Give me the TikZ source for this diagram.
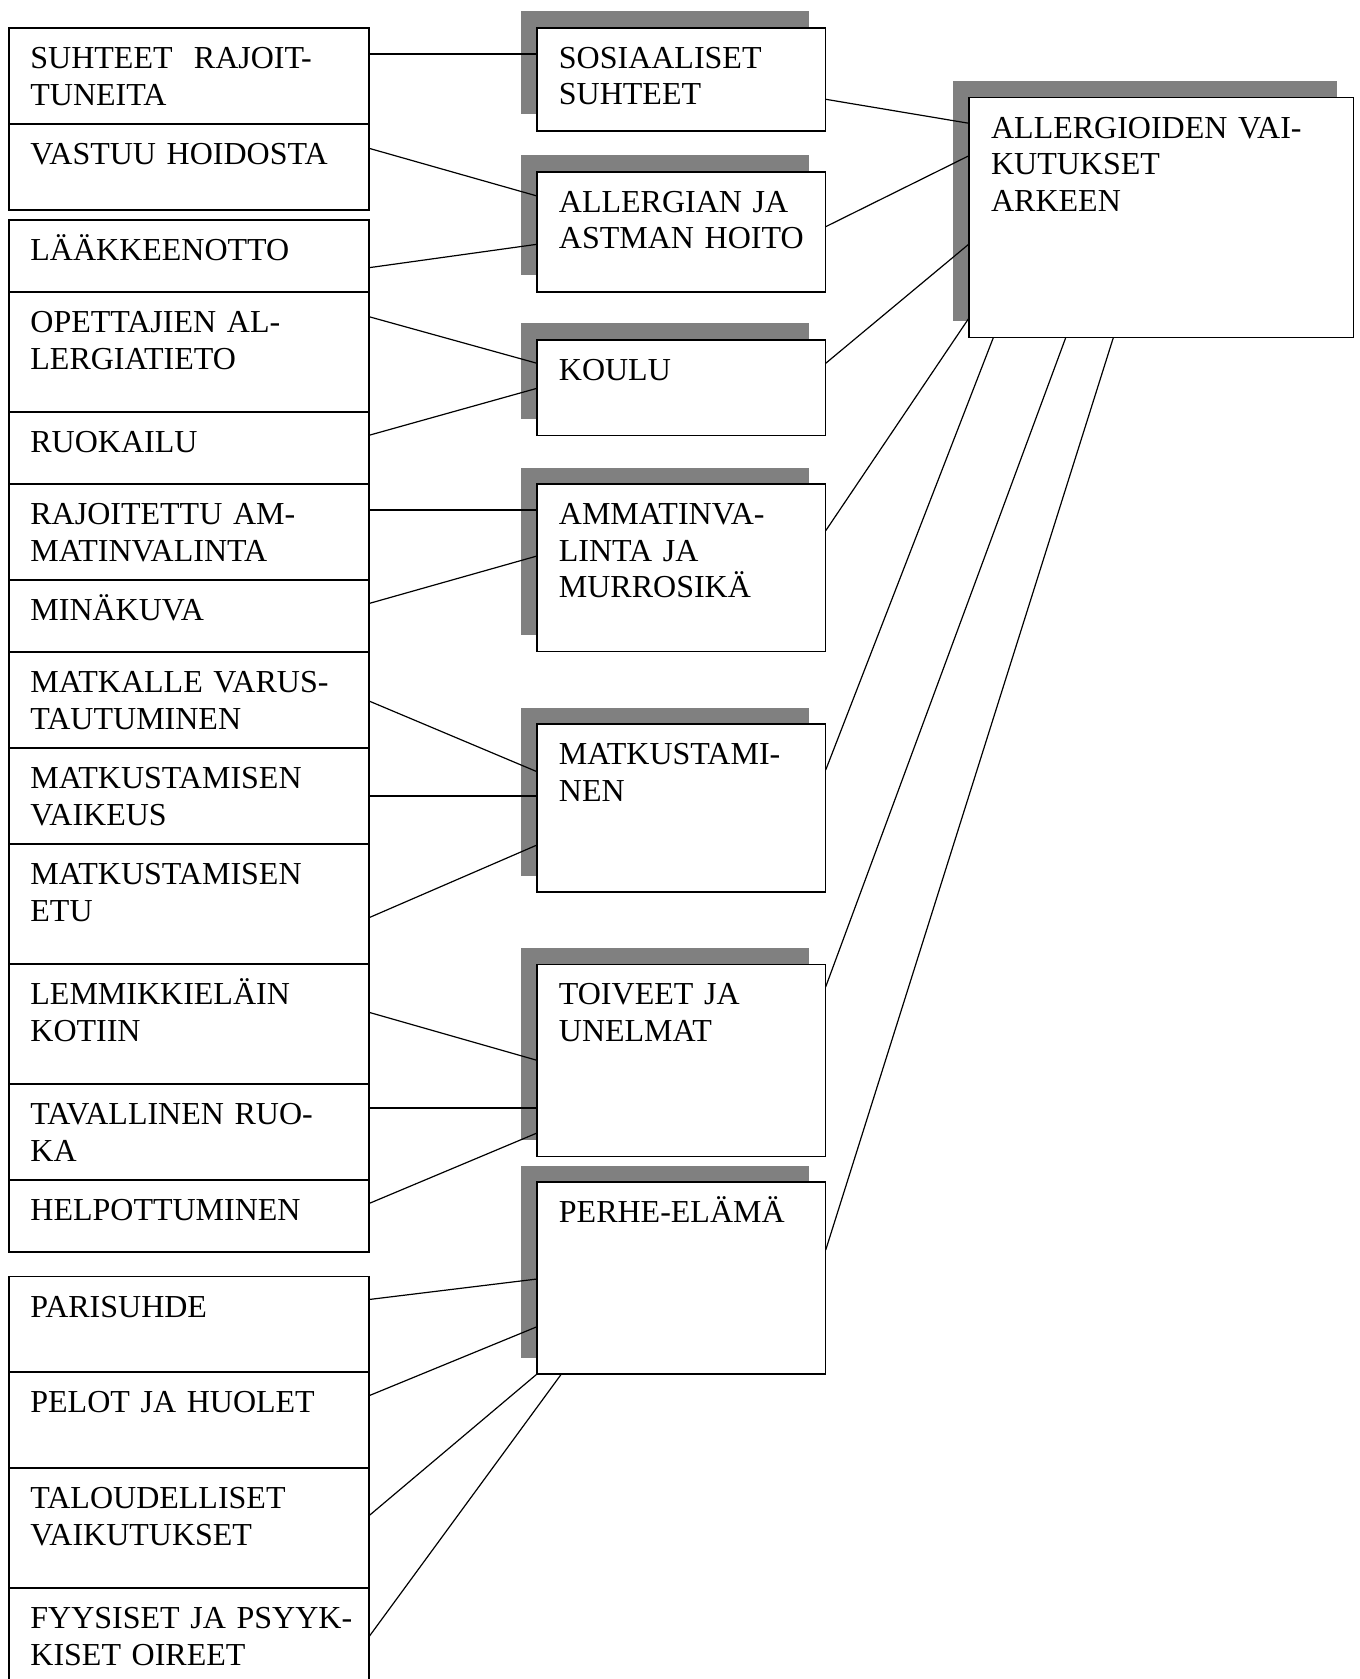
\documentclass[tikz,border=0pt]{standalone}
\usepackage{fontspec}
\setmainfont{Liberation Serif}
\usetikzlibrary{fit,calc,shadows}
\begin{document}
\begin{tikzpicture}[x=0.5pt,y=-0.5pt,
  frame/.style={draw, line width=0.75pt, fill=white, inner sep=0pt, outer sep=0pt},
  topic/.style={frame, general shadow={fill=gray, shadow xshift=-8.25pt, shadow yshift=8.25pt}},
  lbl/.style={anchor=base west, inner sep=0pt, align=left, text width=175pt,
    font=\fontsize{16pt}{18.35pt}\selectfont},
  link/.style={line width=0.6pt}]
\useasboundingbox (0,0) rectangle (1359,1679);

% ---- left column: sub-themes ----
\node[frame, fit={(9,28) (369,124)}] (l1) {};
\node[frame, fit={(9,124) (369,210)}] (l2) {};
\node[frame, fit={(9,220) (369,292)}] (l3) {};
\node[frame, fit={(9,292) (369,412)}] (l4) {};
\node[frame, fit={(9,412) (369,484)}] (l5) {};
\node[frame, fit={(9,484) (369,580)}] (l6) {};
\node[frame, fit={(9,580) (369,652)}] (l7) {};
\node[frame, fit={(9,652) (369,748)}] (l8) {};
\node[frame, fit={(9,748) (369,844)}] (l9) {};
\node[frame, fit={(9,844) (369,964)}] (l10) {};
\node[frame, fit={(9,964) (369,1084)}] (l11) {};
\node[frame, fit={(9,1084) (369,1180)}] (l12) {};
\node[frame, fit={(9,1180) (369,1252)}] (l13) {};
\node[frame, fit={(9,1276.5) (369,1372)}] (l14) {};
\node[frame, fit={(9,1372) (369,1468)}] (l15) {};
\node[frame, fit={(9,1468) (369,1588)}] (l16) {};
\node[frame, fit={(9,1588) (369,1700)}] (l17) {};

\node[lbl] (l1t) at ($(l1.north west)+(21,40.5)$) {SUHTEET~~RAJOIT-\\TUNEITA};
\node[lbl] (l2t) at ($(l2.north west)+(21,40.5)$) {VASTUU HOIDOSTA};
\node[lbl] (l3t) at ($(l3.north west)+(21,40.5)$) {LÄÄKKEENOTTO};
\node[lbl] (l4t) at ($(l4.north west)+(21,40.5)$) {OPETTAJIEN AL-\\LERGIATIETO};
\node[lbl] (l5t) at ($(l5.north west)+(21,40.5)$) {RUOKAILU};
\node[lbl] (l6t) at ($(l6.north west)+(21,40.5)$) {RAJOITETTU AM-\\MATINVALINTA};
\node[lbl] (l7t) at ($(l7.north west)+(21,40.5)$) {MINÄKUVA};
\node[lbl] (l8t) at ($(l8.north west)+(21,40.5)$) {MATKALLE VARUS-\\TAUTUMINEN};
\node[lbl] (l9t) at ($(l9.north west)+(21,40.5)$) {MATKUSTAMISEN\\VAIKEUS};
\node[lbl] (l10t) at ($(l10.north west)+(21,40.5)$) {MATKUSTAMISEN\\ETU};
\node[lbl] (l11t) at ($(l11.north west)+(21,40.5)$) {LEMMIKKIELÄIN\\KOTIIN};
\node[lbl] (l12t) at ($(l12.north west)+(21,40.5)$) {TAVALLINEN RUO-\\KA};
\node[lbl] (l13t) at ($(l13.north west)+(21,40.5)$) {HELPOTTUMINEN};
\node[lbl] (l14t) at ($(l14.north west)+(21,40.5)$) {PARISUHDE};
\node[lbl] (l15t) at ($(l15.north west)+(21,40.5)$) {PELOT JA HUOLET};
\node[lbl] (l16t) at ($(l16.north west)+(21,40.5)$) {TALOUDELLISET\\VAIKUTUKSET};
\node[lbl] (l17t) at ($(l17.north west)+(21,40.5)$) {FYYSISET JA PSYYK-\\KISET OIREET};

% ---- middle column: themes ----
\node[topic, fit={(537,28) (825.7,131)}] (m1) {};
\node[topic, fit={(537,172) (825.7,292)}] (m2) {};
\node[topic, fit={(537,340) (825.7,435.7)}] (m3) {};
\node[topic, fit={(537,484) (825.7,651.7)}] (m4) {};
\node[topic, fit={(537,724) (825.7,892)}] (m5) {};
\node[topic, fit={(537,964.6) (825.7,1156.3)}] (m6) {};
\node[topic, fit={(537,1182) (825.7,1374)}] (m7) {};

\node[lbl] (m1t) at ($(m1.north west)+(21.5,40.3)$) {SOSIAALISET\\SUHTEET};
\node[lbl] (m2t) at ($(m2.north west)+(21.5,40.3)$) {ALLERGIAN JA\\ASTMAN HOITO};
\node[lbl] (m3t) at ($(m3.north west)+(21.5,40.3)$) {KOULU};
\node[lbl] (m4t) at ($(m4.north west)+(21.5,40.3)$) {AMMATINVA-\\LINTA JA\\MURROSIKÄ};
\node[lbl] (m5t) at ($(m5.north west)+(21.5,40.3)$) {MATKUSTAMI-\\NEN};
\node[lbl] (m6t) at ($(m6.north west)+(21.5,40.3)$) {TOIVEET JA\\UNELMAT};
\node[lbl] (m7t) at ($(m7.north west)+(21.5,40.3)$) {PERHE-ELÄMÄ};

% ---- right: main theme ----
\node[topic, fit={(969,97.7) (1353.3,337.7)}] (r) {};
\node[lbl] (rt) at ($(r.north west)+(21.7,40.6)$) {ALLERGIOIDEN VAI-\\KUTUKSET\\ARKEEN};

% ---- connectors: sub-themes to themes ----
\draw[link] ($(l1.north east)+(0,26)$) -- ($(m1.north west)+(0,26)$);
\draw[link] ($(l2.north east)+(0,24.3)$) -- ($(m2.north west)+(0,24)$);
\draw[link] ($(l3.north east)+(0,47.7)$) -- ($(m2.north west)+(0,72.3)$);
\draw[link] ($(l4.north east)+(0,24.7)$) -- ($(m3.north west)+(0,23.3)$);
\draw[link] ($(l5.north east)+(0,23.3)$) -- ($(m3.north west)+(0,48.3)$);
\draw[link] ($(l6.north east)+(0,26)$) -- ($(m4.north west)+(0,26)$);
\draw[link] ($(l7.north east)+(0,23.5)$) -- ($(m4.north west)+(0,72)$);
\draw[link] ($(l8.north east)+(0,49)$) -- ($(m5.north west)+(0,47.7)$);
\draw[link] ($(l9.north east)+(0,48)$) -- ($(m5.north west)+(0,72)$);
\draw[link] ($(l10.north east)+(0,73.7)$) -- ($(m5.north west)+(0,121)$);
\draw[link] ($(l11.north east)+(0,48.3)$) -- ($(m6.north west)+(0,95.7)$);
\draw[link] ($(l12.north east)+(0,24)$) -- ($(m6.north west)+(0,143.4)$);
\draw[link] ($(l13.north east)+(0,23.5)$) -- ($(m6.north west)+(0,168.4)$);
\draw[link] ($(l14.north east)+(0,23)$) -- ($(m7.north west)+(0,97)$);
\draw[link] ($(l15.north east)+(0,23.7)$) -- ($(m7.north west)+(0,144.7)$);
\draw[link] ($(l16.north east)+(0,47.7)$) -- (m7.south west);
\draw[link] ($(l17.north east)+(0,48.7)$) -- ($(m7.south west)+(24.4,0)$);

% ---- connectors: themes to main theme ----
\draw[link] ($(m1.north east)+(0,71.3)$) -- ($(r.north west)+(0,25.6)$);
\draw[link] ($(m2.north east)+(0,54.7)$) -- ($(r.north west)+(0,58)$);
\draw[link] ($(m3.north east)+(0,23.3)$) -- ($(r.north west)+(0,146.3)$);
\draw[link] ($(m4.north east)+(0,46.7)$) -- ($(r.north west)+(0,220.3)$);
\draw[link] ($(m5.north east)+(0,46)$) -- ($(r.south west)+(24.3,0)$);
\draw[link] ($(m6.north east)+(0,22.2)$) -- ($(r.south west)+(96.7,0)$);
\draw[link] ($(m7.north east)+(0,68)$) -- ($(r.south west)+(144.3,0)$);
\end{tikzpicture}
\end{document}
